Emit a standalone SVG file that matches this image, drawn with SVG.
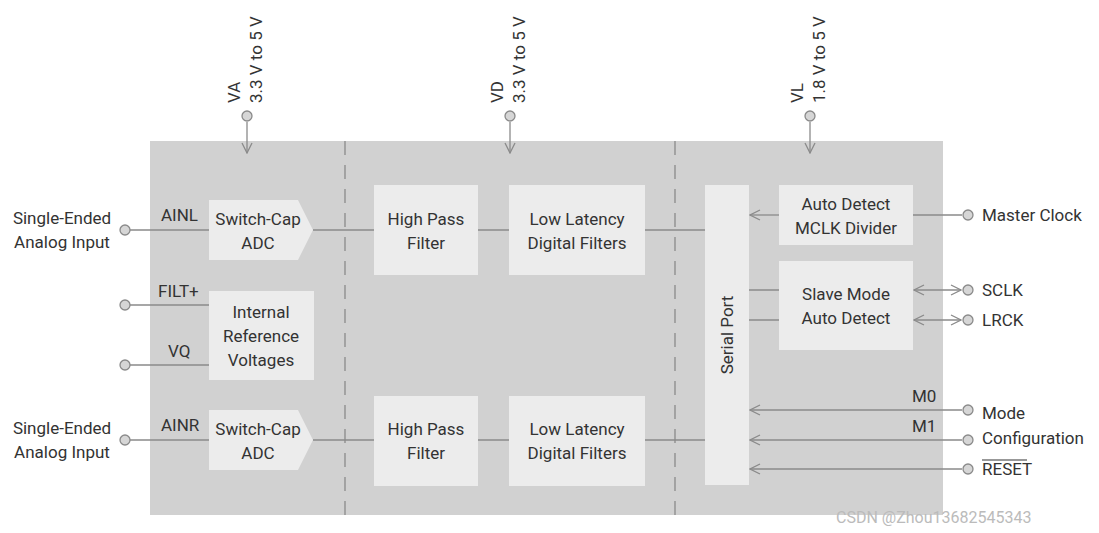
<svg xmlns="http://www.w3.org/2000/svg" width="1099" height="533" viewBox="0 0 1099 533">
<defs>
<marker id="a" viewBox="0 0 12 12" refX="11" refY="6" markerWidth="12" markerHeight="12" markerUnits="userSpaceOnUse" orient="auto-start-reverse"><path d="M1 1 L11 6 L1 11" fill="none" stroke="#8a8a8a" stroke-width="1.3"/></marker>
</defs>
<style>
text{font-family:Roboto,"Liberation Sans",sans-serif;font-size:17px;fill:#333}
.c{text-anchor:middle}
.b{fill:#ececec}
.l{stroke:#8a8a8a;stroke-width:1.3;fill:none}
.p{fill:#d6d6d6;stroke:#8a8a8a;stroke-width:1.3}
.d{stroke:#8a8a8a;stroke-width:1.3;stroke-dasharray:14 10}
</style>
<rect width="1099" height="533" fill="#fff"/>
<rect id="chip" x="150" y="141" width="793" height="374" fill="#d1d1d1"/>
<line class="d" x1="345" y1="141" x2="345" y2="515"/>
<line class="d" x1="675" y1="141" x2="675" y2="515"/>
<g id="connectors">
<path class="l" d="M247 122V153" marker-end="url(#a)"/>
<path class="l" d="M510 122V153" marker-end="url(#a)"/>
<path class="l" d="M810 122V153" marker-end="url(#a)"/>
<path class="l" d="M130 230H209M313 230H374M478 230H509M645 230H705"/>
<path class="l" d="M130 440H209M313 440H374M478 440H509M645 440H705"/>
<path class="l" d="M130 305H209M130 365H209"/>
<path class="l" d="M749 290H779M749 320H779"/>
<path class="l" d="M779 215H750" marker-end="url(#a)"/>
<path class="l" d="M913 215H962"/>
<path class="l" d="M914 290H961" marker-start="url(#a)" marker-end="url(#a)"/>
<path class="l" d="M914 320H961" marker-start="url(#a)" marker-end="url(#a)"/>
<path class="l" d="M962 410H750" marker-end="url(#a)"/>
<path class="l" d="M962 440H750" marker-end="url(#a)"/>
<path class="l" d="M962 469H750" marker-end="url(#a)"/>
</g>
<g id="pins">
<circle class="p" cx="247" cy="116" r="5"/><circle class="p" cx="510" cy="116" r="5"/><circle class="p" cx="810" cy="116" r="5"/>
<circle class="p" cx="125" cy="230" r="5"/><circle class="p" cx="125" cy="305" r="5"/><circle class="p" cx="125" cy="365" r="5"/><circle class="p" cx="125" cy="440" r="5"/>
<circle class="p" cx="968" cy="215" r="5"/><circle class="p" cx="968" cy="290" r="5"/><circle class="p" cx="968" cy="320" r="5"/><circle class="p" cx="968" cy="410" r="5"/><circle class="p" cx="968" cy="440" r="5"/><circle class="p" cx="968" cy="469" r="5"/>
</g>
<g id="supplies">
<text transform="translate(240 103) rotate(-90)">VA</text><text transform="translate(262 103) rotate(-90)">3.3 V to 5 V</text>
<text transform="translate(503 103) rotate(-90)">VD</text><text transform="translate(525 103) rotate(-90)">3.3 V to 5 V</text>
<text transform="translate(803 103) rotate(-90)">VL</text><text transform="translate(825 103) rotate(-90)">1.8 V to 5 V</text>
</g>
<g id="adcL"><path class="b" d="M209 200H298L313 230L298 260H209Z"/><text class="c" x="258" y="225">Switch-Cap</text><text class="c" x="258" y="249">ADC</text></g>
<g id="adcR"><path class="b" d="M209 410H298L313 440L298 470H209Z"/><text class="c" x="258" y="435">Switch-Cap</text><text class="c" x="258" y="459">ADC</text></g>
<g id="ref"><rect class="b" x="209" y="291" width="105" height="89"/><text class="c" x="261" y="318">Internal</text><text class="c" x="261" y="342">Reference</text><text class="c" x="261" y="366">Voltages</text></g>
<g id="hpfL"><rect class="b" x="374" y="185" width="104" height="90"/><text class="c" x="426" y="225">High Pass</text><text class="c" x="426" y="249">Filter</text></g>
<g id="hpfR"><rect class="b" x="374" y="396" width="104" height="90"/><text class="c" x="426" y="435">High Pass</text><text class="c" x="426" y="459">Filter</text></g>
<g id="llL"><rect class="b" x="509" y="185" width="136" height="90"/><text class="c" x="577" y="225">Low Latency</text><text class="c" x="577" y="249">Digital Filters</text></g>
<g id="llR"><rect class="b" x="509" y="396" width="136" height="90"/><text class="c" x="577" y="435">Low Latency</text><text class="c" x="577" y="459">Digital Filters</text></g>
<g id="serial"><rect class="b" x="705" y="185" width="44" height="300"/><text class="c" transform="translate(733 335) rotate(-90)">Serial Port</text></g>
<g id="mclk"><rect class="b" x="779" y="185" width="134" height="60"/><text class="c" x="846" y="210">Auto Detect</text><text class="c" x="846" y="234">MCLK Divider</text></g>
<g id="slave"><rect class="b" x="779" y="261" width="134" height="89"/><text class="c" x="846" y="300">Slave Mode</text><text class="c" x="846" y="324">Auto Detect</text></g>
<g id="labels">
<text class="c" x="62" y="224">Single-Ended</text><text class="c" x="62" y="248">Analog Input</text>
<text class="c" x="62" y="434">Single-Ended</text><text class="c" x="62" y="458">Analog Input</text>
<text x="161" y="221">AINL</text><text x="161" y="431">AINR</text>
<text x="158" y="297">FILT+</text><text x="168" y="357">VQ</text>
<text x="982" y="221">Master Clock</text><text x="982" y="296">SCLK</text><text x="982" y="326">LRCK</text>
<text x="912" y="402">M0</text><text x="912" y="432">M1</text>
<text x="982" y="419">Mode</text><text x="982" y="444">Configuration</text><text x="982" y="475">RESET</text>
<line x1="982" y1="460" x2="1027" y2="460" stroke="#333" stroke-width="1.2"/>
<text x="836" y="523" style="font-size:16px;fill:#bbb">CSDN @Zhou13682545343</text>
</g>
</svg>
